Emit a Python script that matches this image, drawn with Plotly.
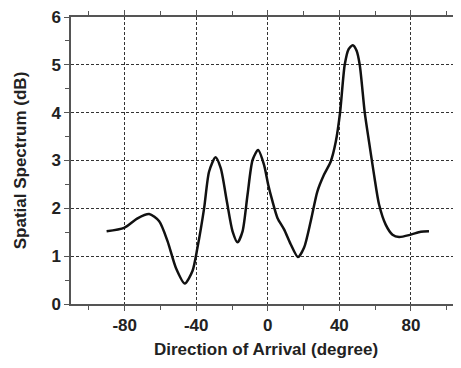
import plotly.graph_objects as go

doa = [-90.1, -80.3, -72.8, -66.3, -60.7, -56.0, -51.4, -46.4, -42.1, -39.3, -35.6, -32.8,
       -29.2, -26.3, -22.9, -19.7, -16.9, -14.1, -11.3, -8.5, -5.4, -2.1, 0.2, 2.6, 5.4, 9.1,
       12.8, 16.9, 20.3, 24.0, 27.7, 31.4, 35.2, 38.0, 40.4, 43.0, 45.2, 47.5, 49.6, 51.4, 54.2,
       56.6, 59.4, 62.2, 65.9, 69.7, 73.4, 79.9, 85.5, 90.1]
spectrum = [1.52, 1.59, 1.79, 1.88, 1.73, 1.31, 0.76, 0.43, 0.69, 1.18, 2.0, 2.77,
            3.07, 2.84, 2.15, 1.52, 1.29, 1.52, 2.29, 3.01, 3.22, 2.91, 2.50, 2.15, 1.80, 1.56,
            1.25, 0.98, 1.18, 1.73, 2.35, 2.70, 2.98, 3.39, 4.0, 5.0, 5.33, 5.41, 5.30, 5.0, 4.0,
            3.39, 2.70, 2.08, 1.66, 1.45, 1.40, 1.45, 1.51, 1.52]
x_ticks = [-80, -40, 0, 40, 80]
y_ticks = [0, 1, 2, 3, 4, 5, 6]

fig = go.Figure()
fig.add_trace(go.Scatter(x=doa, y=spectrum, mode="lines",
                         line=dict(color="#111111", width=2.5, shape="spline", smoothing=0.7)))

font = dict(family="Liberation Sans, Arial, sans-serif", size=17, color="#222222")
fig.update_layout(
    width=453, height=360,
    margin=dict(l=63, r=0, t=6, b=64),
    paper_bgcolor="white", plot_bgcolor="white",
    showlegend=False,
    font=font,
)
fig.update_xaxes(
    range=[-110, 108], tickvals=x_ticks, ticktext=[f"<b>{v}</b>" for v in x_ticks],
    showgrid=True, gridcolor="#333333", griddash="3px,2px", gridwidth=1,
    showline=True, linecolor="#555555", linewidth=1.5, mirror="ticks",
    ticks="outside", ticklen=5, tickcolor="#555555",
    minor=dict(tickvals=[-100, -60, -20, 20, 60, 100], ticks="outside", ticklen=4, tickcolor="#555555", showgrid=False),
    zeroline=False, ticklabeloverflow="allow",
    title=dict(text="<b>Direction of Arrival (degree)</b>", font=font, standoff=9),
)
fig.update_yaxes(
    range=[0, 6], tickvals=y_ticks, ticktext=[f"<b>{v}</b>" for v in y_ticks],
    showgrid=True, gridcolor="#333333", griddash="3px,2px", gridwidth=1,
    showline=True, linecolor="#555555", linewidth=1.5,
    ticks="outside", ticklen=5, tickcolor="#555555",
    minor=dict(tickvals=[0.5, 1.5, 2.5, 3.5, 4.5, 5.5], ticks="outside", ticklen=4, tickcolor="#555555", showgrid=False),
    zeroline=False, ticklabeloverflow="allow",
    title=dict(text="<b>Spatial Spectrum (dB)</b>", font=font, standoff=20),
)
fig.write_html("out.html")
